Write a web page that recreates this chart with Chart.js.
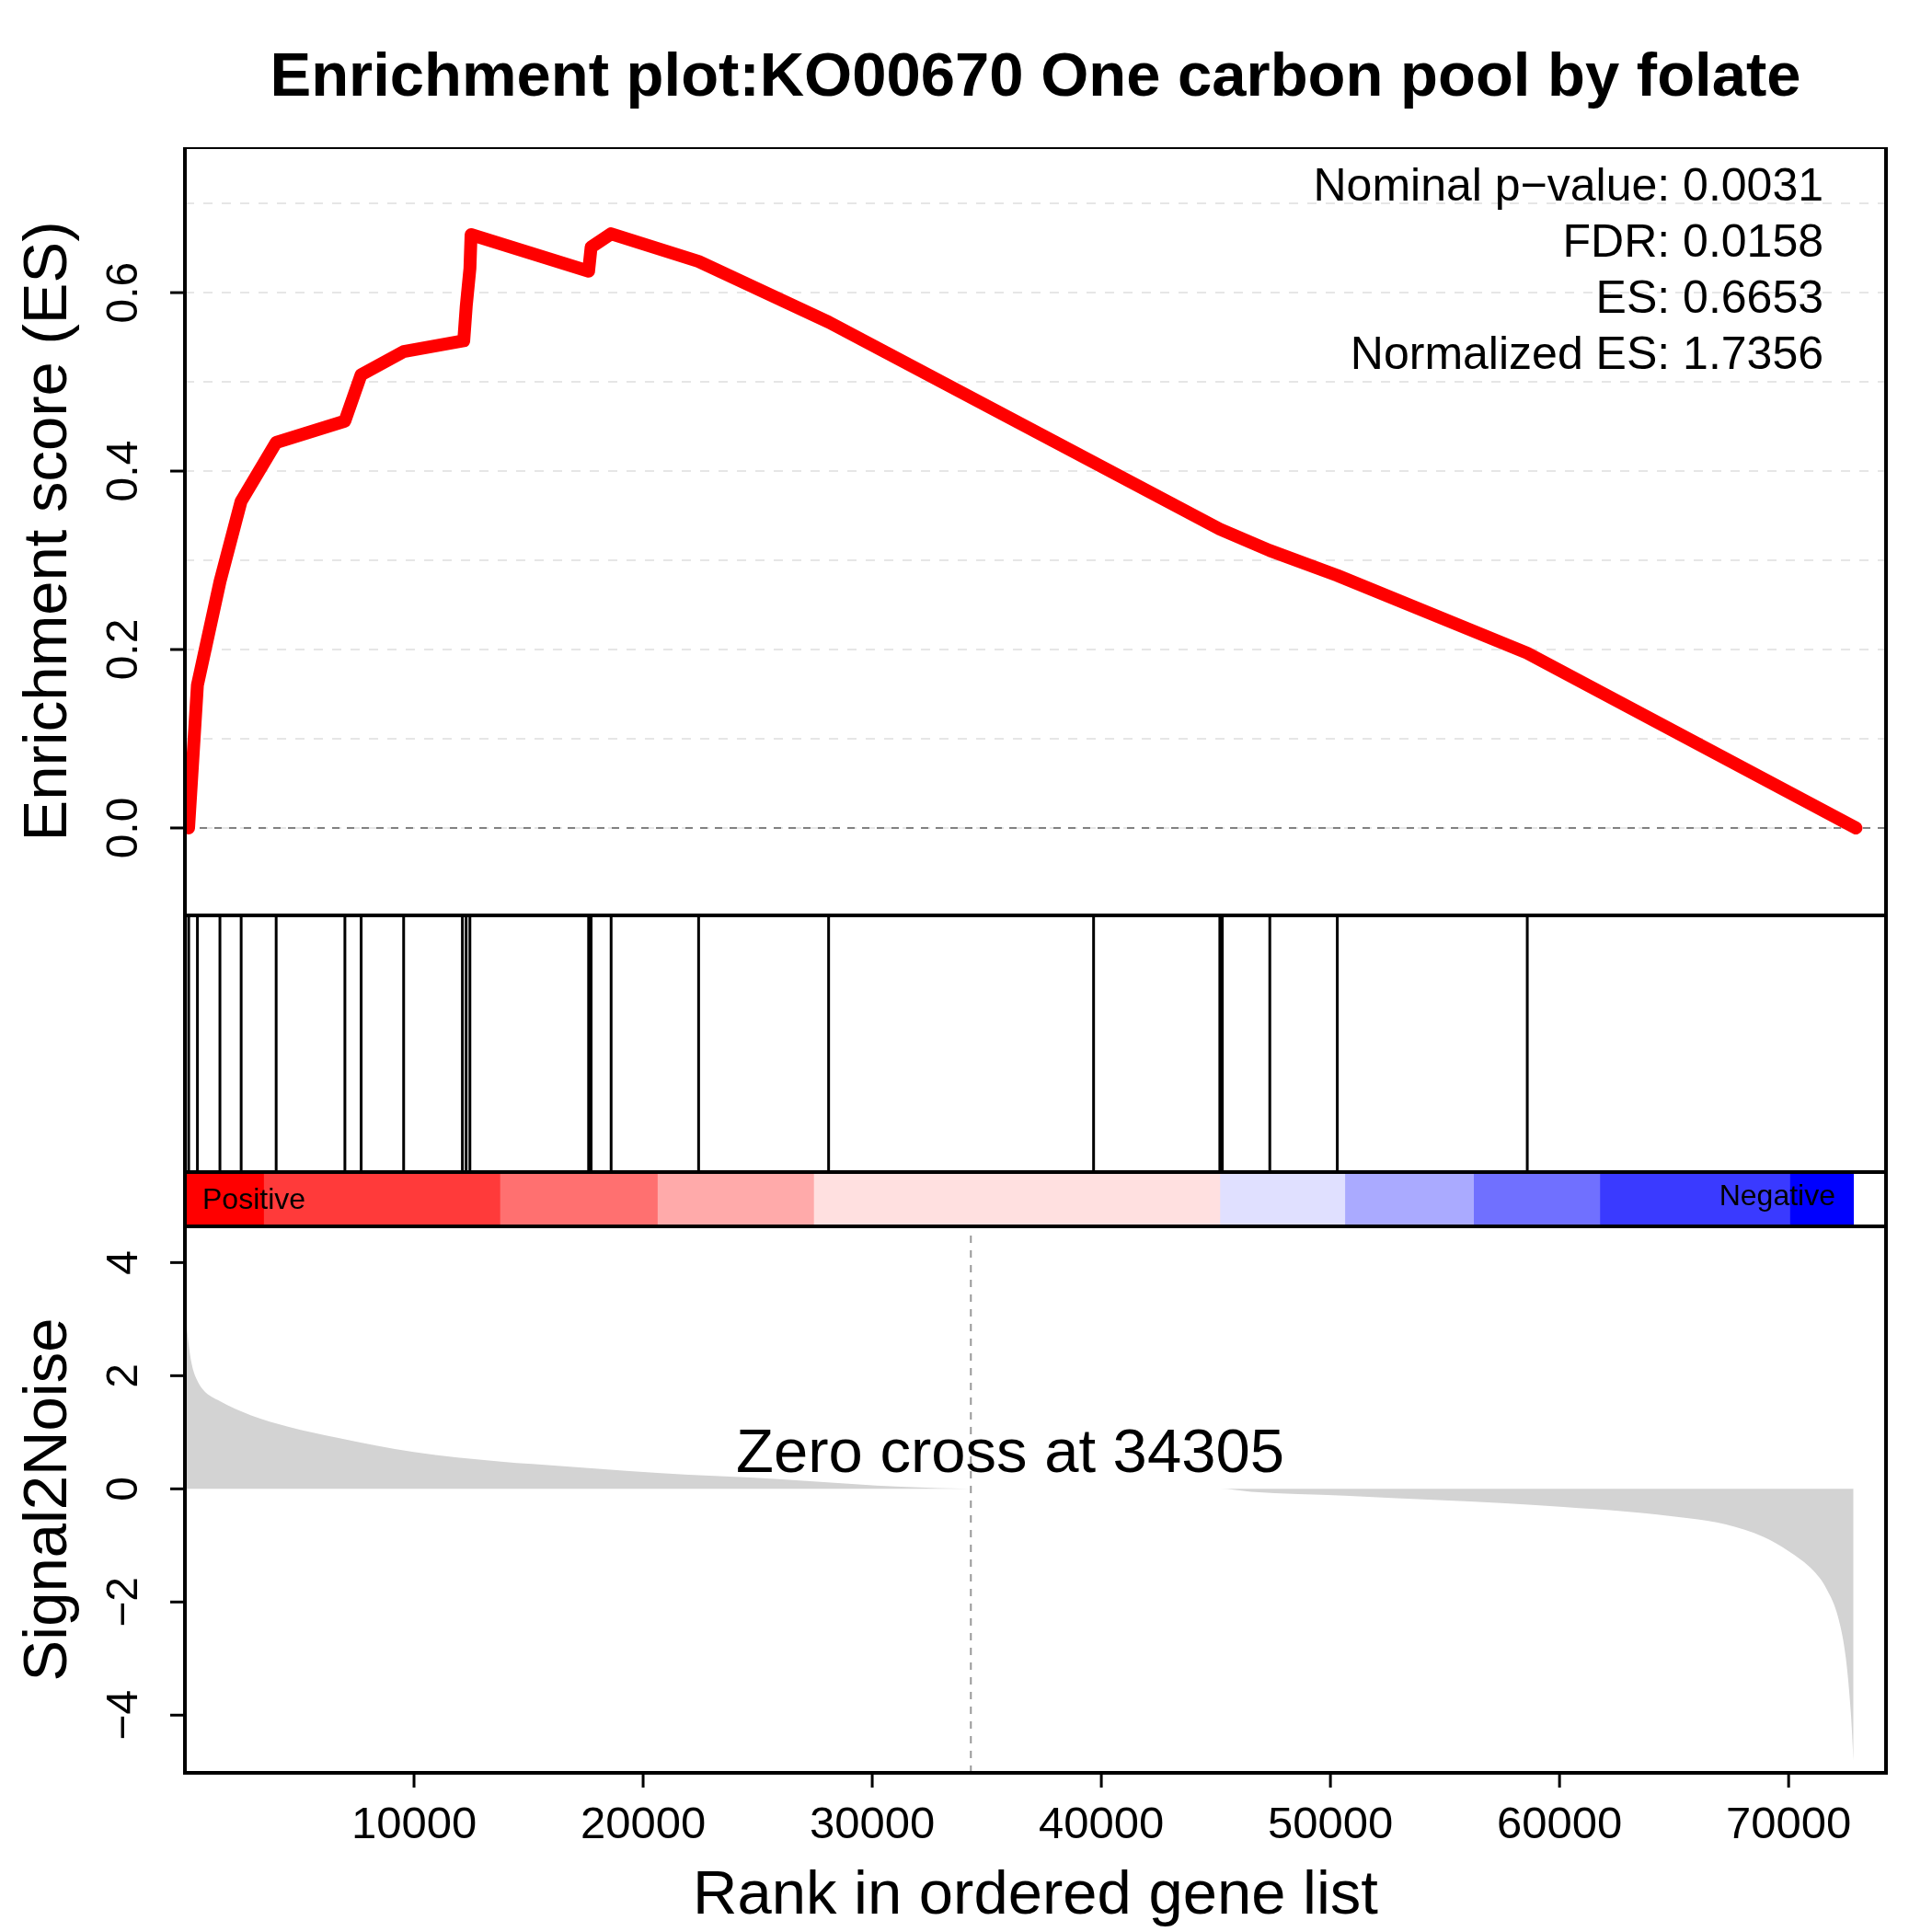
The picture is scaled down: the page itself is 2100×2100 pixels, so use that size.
<!DOCTYPE html>
<html><head><meta charset="utf-8">
<script src="https://cdn.jsdelivr.net/npm/chart.js@4"></script>
<style>body{margin:0;background:#fff;width:2100px;height:2100px;position:relative;overflow:hidden}
canvas{position:absolute;left:0}
#title{position:absolute;top:42px;left:201px;width:1849px;text-align:center;font:bold 67px "Liberation Sans",Arial,sans-serif}
</style></head><body>
<div id="title">Enrichment plot:KO00670 One carbon pool by folate</div>
<canvas id="c1" width="2100" height="835" style="top:160px"></canvas>
<canvas id="c2" width="2100" height="279" style="top:995px"></canvas>
<canvas id="c3" width="2100" height="59" style="top:1274px"></canvas>
<canvas id="c4" width="2100" height="767" style="top:1333px"></canvas>
<script>
// ---- data ----
const esRanks = [160,545,1530,2450,3980,6980,7690,9550,12170,12280,12440,12490,17620,17730,18600,22420,28100,45170,47350,50300,58590,72940];
const esValues = [0,0.16,0.276,0.366,0.432,0.456,0.508,0.534,0.546,0.585,0.627,0.665,0.624,0.651,0.666,0.635,0.567,0.335,0.311,0.283,0.196,0];
const hitRanks = [164,546,1528,2455,3983,6983,7692,9547,12111,12275,12439,17621,17730,18603,22422,28096,39662,45172,45281,47354,50300,58592];
const barStarts = [55,3437,13748,20622,27442,45172,50628,56247,61757,70050];
const barEnds = [3437,13748,20622,27442,45172,50628,56247,61757,70050,72832];
const barColors = ['#FF0000','#FF3A3A','#FF7070','#FFAAAA','#FFE0E0','#E0E0FF','#AAAAFF','#7070FF','#3A3AFF','#0000FF'];
const s2nRanks = [55,150,300,500,800,1530,2890,4500,6700,9984,13800,16530,19260,21986,24700,27441,30169,32350,34305,45172,46540,50628,54720,57447,60170,62902,65630,67267,68900,69995,71090,71632,72180,72500,72723,72832];
const s2nValues = [3.0,2.6,2.2,1.95,1.75,1.55,1.3,1.1,0.9,0.65,0.48,0.4,0.32,0.25,0.2,0.13,0.06,0.02,0,0,-0.05,-0.12,-0.2,-0.25,-0.32,-0.4,-0.52,-0.63,-0.85,-1.1,-1.45,-1.75,-2.3,-3.0,-4.0,-4.8];
const zeroCross = 34305;
const esTickLabels = [0,0.2,0.4,0.6];
const s2nTickLabels = [-4,-2,0,2,4];
const xTickLabels = [10000,20000,30000,40000,50000,60000,70000];
const statsText = ['Nominal p\u2212value: 0.0031','FDR: 0.0158','ES: 0.6653','Normalized ES: 1.7356'];
// ---- helpers ----
const FONT='"Liberation Sans",Arial,sans-serif';
const XMAX=74250;
const xScale = (display)=>({type:'linear',min:0,max:XMAX,display:display});
const fixY = s=>{s.width=201;};
const box = {id:'box',afterDraw(c){const a=c.chartArea,x=c.ctx;x.save();x.strokeStyle='#000';x.lineWidth=4;x.strokeRect(a.left,a.top,a.right-a.left,a.bottom-a.top);x.restore();}};
function yLabels(vals,fmt){return {id:'yl',afterDraw(c){const s=c.scales.y,x=c.ctx;x.save();x.fillStyle='#000';x.strokeStyle='#000';x.lineWidth=3;x.font='48px '+FONT;x.textAlign='center';x.textBaseline='middle';
 vals.forEach(v=>{const p=s.getPixelForValue(v);x.beginPath();x.moveTo(c.chartArea.left,p);x.lineTo(c.chartArea.left-16,p);x.stroke();
 x.save();x.translate(136,p);x.rotate(-Math.PI/2);x.fillText(fmt(v),0,0);x.restore();});x.restore();}};}
function yTitle(t){return {id:'yt',afterDraw(c){const x=c.ctx,a=c.chartArea;x.save();x.fillStyle='#000';x.font='67px '+FONT;x.textAlign='center';x.textBaseline='middle';x.translate(54,(a.top+a.bottom)/2);x.rotate(-Math.PI/2);x.fillText(t,0,0);x.restore();}};}
const base = {responsive:false,devicePixelRatio:1,animation:false,layout:{padding:{right:50,left:0,top:0,bottom:0}},plugins:{legend:{display:false},tooltip:{enabled:false}}};
function segs(ranks,y0,y1){const d=[];ranks.forEach(r=>{d.push({x:r,y:y0},{x:r,y:y1},{x:NaN,y:NaN});});return d;}

// ---- top ES panel ----
new Chart(document.getElementById('c1'),{type:'line',data:{datasets:[
 {data:esRanks.map((r,i)=>({x:r,y:esValues[i]})),borderColor:'#FF0000',borderWidth:14,pointRadius:0,borderJoinStyle:'round',borderCapStyle:'round'},
 {data:[{x:0,y:0},{x:XMAX,y:0}],borderColor:'#808080',borderWidth:2,borderDash:[8,8],pointRadius:0}
]},options:{...base,scales:{x:xScale(false),y:{min:-0.098,max:0.763,afterFit:fixY,ticks:{display:false,stepSize:0.1},grid:{color:'#E6E6E6',lineWidth:2,drawTicks:false},border:{display:false,dash:[10,10]}}}},
plugins:[box,yLabels(esTickLabels,v=>v.toFixed(1)),yTitle('Enrichment score (ES)'),{id:'st',afterDraw(c){const x=c.ctx;x.save();x.fillStyle='#000';x.font='50px '+FONT;x.textAlign='right';x.textBaseline='middle';statsText.forEach((t,i)=>x.fillText(t,1982,44+i*61));x.restore();}}]});

// ---- hits panel ----
new Chart(document.getElementById('c2'),{type:'line',data:{datasets:[
 {data:segs(hitRanks,0,1),borderColor:'#000',borderWidth:3,pointRadius:0,spanGaps:false}
]},options:{...base,scales:{x:xScale(false),y:{min:0,max:1,afterFit:fixY,ticks:{display:false},grid:{display:false},border:{display:false}}}},plugins:[box]});

// ---- colour bar ----
const cbSets = barStarts.map((s,i)=>({data:[[s,barEnds[i]]],backgroundColor:barColors[i],barPercentage:1,categoryPercentage:1,grouped:false,borderWidth:0}));
hitRanks.forEach(r=>cbSets.push({data:[[r-50,r+50]],backgroundColor:'#999999',barPercentage:1,categoryPercentage:1,grouped:false,borderWidth:0}));
new Chart(document.getElementById('c3'),{type:'bar',data:{labels:['c'],datasets:cbSets},options:{...base,indexAxis:'y',scales:{x:xScale(false),y:{type:'category',afterFit:fixY,ticks:{display:false},grid:{display:false},border:{display:false}}}},
plugins:[box,{id:'lbl',afterDraw(c){const x=c.ctx,a=c.chartArea;x.save();x.fillStyle='#000';x.font='32px '+FONT;x.textBaseline='middle';x.textAlign='left';x.fillText('Positive',220,(a.top+a.bottom)/2+2);x.textAlign='right';x.fillText('Negative',1995,(a.top+a.bottom)/2-2);x.restore();}}]});

// ---- signal2noise panel ----
new Chart(document.getElementById('c4'),{type:'line',data:{datasets:[
 {data:s2nRanks.map((r,i)=>({x:r,y:s2nValues[i]})),borderWidth:0,borderColor:'rgba(0,0,0,0)',backgroundColor:'#D3D3D3',fill:'origin',pointRadius:0,tension:0.3,cubicInterpolationMode:'monotone'},
 {data:[{x:zeroCross,y:-5.02},{x:zeroCross,y:4.64}],borderColor:'#999999',borderWidth:2,borderDash:[8,8],pointRadius:0}
]},options:{...base,scales:{x:{type:'linear',min:0,max:XMAX,afterFit:s=>{s.height=173;},ticks:{display:false},grid:{display:false},border:{display:false}},
 y:{min:-5.02,max:4.64,afterFit:fixY,ticks:{display:false},grid:{display:false},border:{display:false}}}},
plugins:[box,yLabels(s2nTickLabels,v=>v<0?'\u2212'+Math.abs(v):String(v)),yTitle('Signal2Noise'),{id:'xl',afterDraw(c){const s=c.scales.x,x=c.ctx,a=c.chartArea;x.save();x.strokeStyle='#000';x.lineWidth=3;x.fillStyle='#000';x.font='49px '+FONT;x.textAlign='center';x.textBaseline='middle';
 xTickLabels.forEach(v=>{const p=s.getPixelForValue(v);x.beginPath();x.moveTo(p,a.bottom);x.lineTo(p,a.bottom+16);x.stroke();x.fillText(String(v),p,a.bottom+57);});
 x.font='67px '+FONT;x.fillText('Rank in ordered gene list',(a.left+a.right)/2,a.bottom+135);
 x.fillText('Zero cross at '+zeroCross,1098,s.chart.scales.y.getPixelForValue(0.6));x.restore();}}]});
</script></body></html>
